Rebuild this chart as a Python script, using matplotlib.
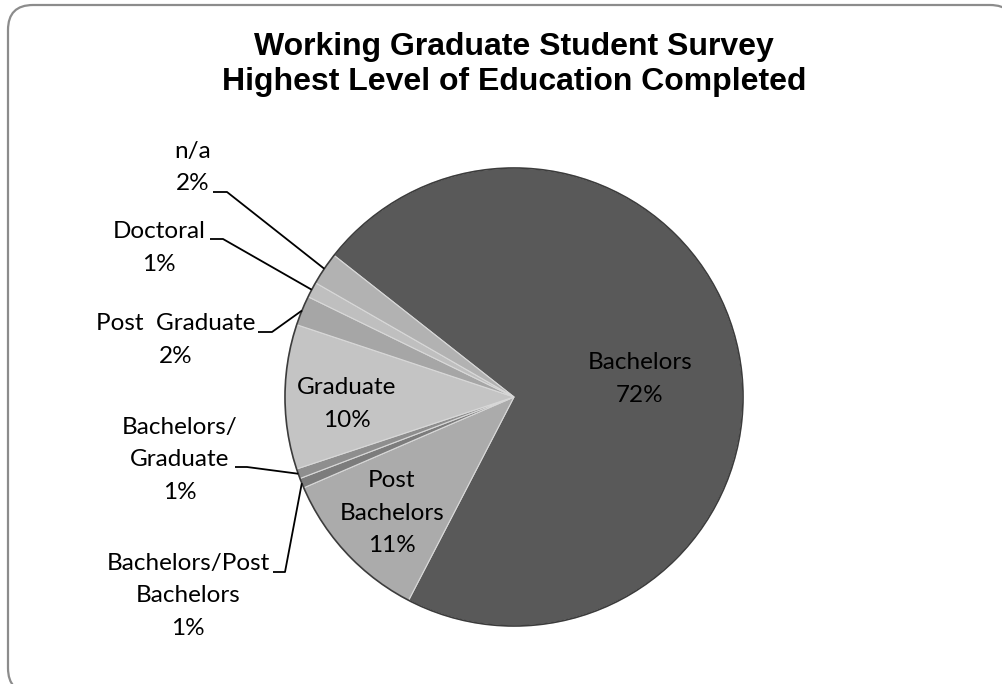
import matplotlib
matplotlib.use("Agg")
import matplotlib.pyplot as plt
from matplotlib.patches import FancyBboxPatch, Circle
import numpy as np

# ---- data ----
categories = ["Bachelors", "Post\nBachelors", "Bachelors/Post\nBachelors",
              "Bachelors/\nGraduate", "Graduate", "Post  Graduate",
              "Doctoral", "n/a"]
shares = [72.0, 10.9, 0.7, 0.7, 10.2, 2.1, 1.1, 2.3]
colors = ["#595959", "#ababab", "#7c7c7c", "#8e8e8e", "#c4c4c4",
          "#a6a6a6", "#bfbfbf", "#b2b2b2"]
title_lines = ["Working Graduate Student Survey",
               "Highest Level of Education Completed"]

W, H = 1003, 684
fig = plt.figure(figsize=(W / 100, H / 100), dpi=100)
ax = fig.add_axes([0, 0, 1, 1])
ax.set_xlim(0, W)
ax.set_ylim(0, H)
ax.set_aspect("equal")
ax.axis("off")

def Y(py):
    return H - py

# border (extends past right and bottom edges, as in the reference)
border = FancyBboxPatch((8, Y(693)), 1007, 688,
                        boxstyle="round,pad=0,rounding_size=25",
                        fc="white", ec="#8c8c8c", lw=1.6, zorder=0,
                        clip_on=False)
ax.add_patch(border)

cx, cy, R = 514, Y(397), 229
wedges, _ = ax.pie(shares, colors=colors, startangle=141.8, counterclock=False,
                   center=(cx, cy), radius=R,
                   wedgeprops=dict(edgecolor="#d8d8d8", linewidth=0.8))
ax.set_xlim(0, W)
ax.set_ylim(0, H)
ax.add_patch(Circle((cx, cy), R, fill=False, ec="#3c3c3c", lw=1.2, zorder=5))

# title
ax.text(514, Y(47), title_lines[0], ha="center", va="center",
        fontsize=23, fontweight="bold", family="Liberation Sans")
ax.text(514, Y(82), title_lines[1], ha="center", va="center",
        fontsize=23, fontweight="bold", family="Liberation Sans")

lblfont = dict(fontsize=17.5, family=["Lato", "DejaVu Sans"], ha="center",
               va="center", linespacing=1.65, color="black")

# label placement (px): centre, leader start, leader elbow
inside = {0: (640, 379), 1: (392, 513), 4: (347, 404)}
outside = {7: ((193, 167.5), (213, 192), (227, 192)),
           6: ((159, 248), (210, 239), (223, 239)),
           5: ((176, 340), (258, 332), (272, 332)),
           3: ((180, 460), (235, 467), (247, 467)),
           2: ((188, 596), (273, 572), (285, 572))}

for i, w in enumerate(wedges):
    txt = f"{categories[i]}\n{round(shares[i])}%"
    if i in inside:
        px, py = inside[i]
        ax.text(px, Y(py), txt, zorder=6, **lblfont)
    else:
        (px, py), (sx, sy), (ex, ey) = outside[i]
        ax.text(px, Y(py), txt, zorder=6, **lblfont)
        mid = np.deg2rad((w.theta1 + w.theta2) / 2)
        tx, ty = cx + R * np.cos(mid), cy + R * np.sin(mid)
        ax.plot([sx, ex, tx], [Y(sy), Y(ey), ty], color="black", lw=1.3,
                zorder=7, solid_capstyle="butt")

fig.savefig("out.png", dpi=100)
